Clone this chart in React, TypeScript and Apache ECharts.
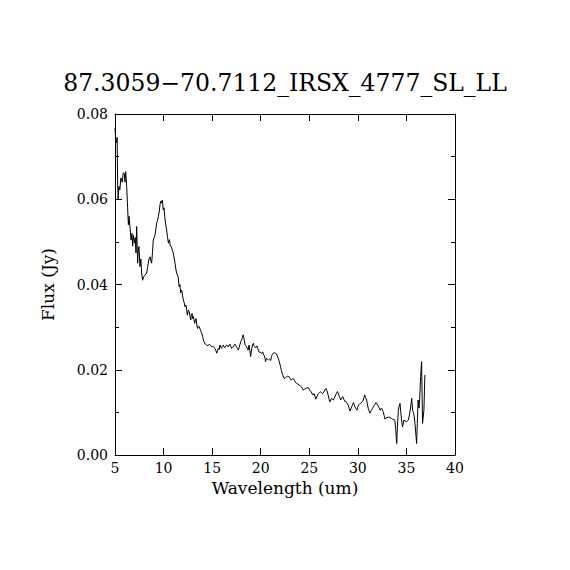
import React, { useEffect, useRef } from "react";
import * as echarts from "echarts";

const TITLE = "87.3059\u221270.7112_IRSX_4777_SL_LL";
const X_NAME = "Wavelength (um)";
const Y_NAME = "Flux (Jy)";

const wavelength: number[] = [
  5.00, 5.08, 5.17, 5.22, 5.27, 5.32, 5.40, 5.50, 5.60, 5.75, 5.85, 5.96, 6.03, 6.10, 6.20, 6.30, 6.38, 6.44, 6.54, 6.65,
  6.75, 6.82, 6.90, 7.00, 7.08, 7.16, 7.23, 7.33, 7.40, 7.47, 7.57, 7.66, 7.74, 7.84, 7.95, 8.09, 8.26, 8.36, 8.43, 8.50,
  8.60, 8.70, 8.77, 8.86, 8.94, 9.03, 9.12, 9.20, 9.29, 9.38, 9.46, 9.55, 9.63, 9.72, 9.80, 9.88, 9.97, 10.05, 10.12, 10.20,
  10.30, 10.40, 10.50, 10.60, 10.70, 10.80, 10.90, 11.00, 11.10, 11.18, 11.28, 11.35, 11.42, 11.50, 11.60, 11.68, 11.76, 11.86, 11.95, 12.03,
  12.12, 12.20, 12.30, 12.38, 12.45, 12.55, 12.65, 12.72, 12.80, 12.86, 12.93, 13.00, 13.06, 13.13, 13.20, 13.27, 13.34, 13.42, 13.50, 13.60,
  13.68, 13.76, 13.85, 13.95, 14.02, 14.10, 14.16, 14.30, 14.43, 14.57, 14.71, 14.83, 14.95, 15.10, 15.20, 15.30, 15.40, 15.47, 15.55, 15.64,
  15.72, 15.80, 15.90, 15.98, 16.05, 16.15, 16.22, 16.30, 16.40, 16.50, 16.58, 16.67, 16.75, 16.84, 16.92, 17.00, 17.10, 17.20, 17.28, 17.36,
  17.43, 17.50, 17.60, 17.70, 17.78, 17.87, 17.95, 18.04, 18.12, 18.20, 18.25, 18.30, 18.40, 18.48, 18.55, 18.62, 18.70, 18.80, 18.88, 18.96,
  19.02, 19.08, 19.16, 19.24, 19.32, 19.40, 19.50, 19.60, 19.70, 19.77, 19.85, 19.93, 20.02, 20.10, 20.20, 20.27, 20.36, 20.45, 20.50, 20.55,
  20.60, 20.70, 20.80, 20.90, 20.95, 21.04, 21.10, 21.20, 21.30, 21.40, 21.47, 21.56, 21.64, 21.72, 21.80, 21.90, 22.00, 22.06, 22.13, 22.20,
  22.30, 22.40, 22.50, 22.58, 22.67, 22.78, 22.90, 23.00, 23.08, 23.16, 23.28, 23.40, 23.50, 23.60, 23.68, 23.80, 23.95, 24.08, 24.20, 24.30,
  24.38, 24.50, 24.65, 24.78, 24.90, 25.05, 25.20, 25.36, 25.50, 25.58, 25.67, 25.80, 25.93, 26.05, 26.16, 26.27, 26.37, 26.50, 26.62, 26.72,
  26.80, 26.85, 26.95, 27.05, 27.13, 27.22, 27.30, 27.40, 27.48, 27.56, 27.65, 27.78, 27.90, 28.00, 28.10, 28.17, 28.24, 28.34, 28.44, 28.55,
  28.68, 28.76, 28.85, 28.92, 29.00, 29.10, 29.20, 29.28, 29.37, 29.45, 29.54, 29.62, 29.70, 29.80, 29.90, 29.98, 30.06, 30.18, 30.30, 30.44,
  30.57, 30.64, 30.70, 30.80, 30.90, 30.98, 31.06, 31.15, 31.24, 31.32, 31.40, 31.50, 31.60, 31.74, 31.87, 31.96, 32.04, 32.18, 32.30, 32.37,
  32.44, 32.52, 32.60, 32.70, 32.80, 32.90, 33.00, 33.15, 33.30, 33.45, 33.57, 33.70, 33.80, 33.90, 34.00, 34.07, 34.17, 34.25, 34.34, 34.42,
  34.50, 34.60, 34.74, 34.86, 35.00, 35.10, 35.20, 35.34, 35.45, 35.54, 35.64, 35.72, 35.78, 35.88, 36.05, 36.12, 36.20, 36.30, 36.38, 36.46,
  36.56, 36.66, 36.80, 36.90,
];

const flux: number[] = [
  0.0767, 0.0739, 0.0732, 0.0745, 0.0645, 0.0600, 0.0630, 0.0622, 0.0650, 0.0640, 0.0662, 0.0660, 0.0640, 0.0665, 0.0630, 0.0580, 0.0540, 0.0560, 0.0536, 0.0504,
  0.0520, 0.0490, 0.0515, 0.0497, 0.0510, 0.0474, 0.0536, 0.0450, 0.0480, 0.0489, 0.0442, 0.0460, 0.0427, 0.0410, 0.0418, 0.0422, 0.0427, 0.0440, 0.0450, 0.0460,
  0.0465, 0.0455, 0.0450, 0.0475, 0.0504, 0.0510, 0.0516, 0.0530, 0.0544, 0.0550, 0.0560, 0.0570, 0.0587, 0.0596, 0.0591, 0.0598, 0.0575, 0.0580, 0.0560, 0.0544,
  0.0530, 0.0512, 0.0497, 0.0505, 0.0490, 0.0489, 0.0480, 0.0474, 0.0460, 0.0450, 0.0434, 0.0427, 0.0422, 0.0418, 0.0395, 0.0400, 0.0380, 0.0387, 0.0375, 0.0364,
  0.0358, 0.0348, 0.0352, 0.0340, 0.0328, 0.0340, 0.0336, 0.0325, 0.0317, 0.0328, 0.0332, 0.0320, 0.0325, 0.0318, 0.0309, 0.0315, 0.0320, 0.0305, 0.0297, 0.0302,
  0.0301, 0.0295, 0.0290, 0.0284, 0.0278, 0.0270, 0.0266, 0.0260, 0.0258, 0.0256, 0.0260, 0.0257, 0.0254, 0.0255, 0.0252, 0.0250, 0.0244, 0.0239, 0.0245, 0.0250,
  0.0247, 0.0258, 0.0252, 0.0250, 0.0255, 0.0258, 0.0254, 0.0252, 0.0256, 0.0258, 0.0255, 0.0254, 0.0258, 0.0260, 0.0255, 0.0250, 0.0253, 0.0254, 0.0258, 0.0260,
  0.0257, 0.0254, 0.0250, 0.0246, 0.0252, 0.0260, 0.0266, 0.0270, 0.0276, 0.0282, 0.0276, 0.0270, 0.0258, 0.0256, 0.0254, 0.0250, 0.0246, 0.0258, 0.0245, 0.0231,
  0.0240, 0.0250, 0.0258, 0.0262, 0.0256, 0.0254, 0.0252, 0.0256, 0.0250, 0.0244, 0.0241, 0.0242, 0.0240, 0.0238, 0.0242, 0.0237, 0.0233, 0.0227, 0.0219, 0.0225,
  0.0227, 0.0224, 0.0223, 0.0225, 0.0225, 0.0222, 0.0231, 0.0236, 0.0239, 0.0240, 0.0240, 0.0238, 0.0237, 0.0232, 0.0227, 0.0220, 0.0211, 0.0205, 0.0198, 0.0192,
  0.0186, 0.0180, 0.0180, 0.0182, 0.0184, 0.0185, 0.0184, 0.0180, 0.0177, 0.0176, 0.0179, 0.0178, 0.0174, 0.0170, 0.0168, 0.0167, 0.0164, 0.0162, 0.0160, 0.0156,
  0.0152, 0.0155, 0.0156, 0.0158, 0.0158, 0.0152, 0.0148, 0.0141, 0.0144, 0.0138, 0.0131, 0.0138, 0.0144, 0.0147, 0.0148, 0.0146, 0.0144, 0.0148, 0.0153, 0.0156,
  0.0152, 0.0148, 0.0140, 0.0130, 0.0125, 0.0130, 0.0133, 0.0130, 0.0129, 0.0133, 0.0137, 0.0144, 0.0149, 0.0143, 0.0137, 0.0133, 0.0129, 0.0133, 0.0137, 0.0131,
  0.0125, 0.0126, 0.0123, 0.0120, 0.0117, 0.0110, 0.0103, 0.0108, 0.0113, 0.0118, 0.0123, 0.0118, 0.0113, 0.0109, 0.0105, 0.0111, 0.0117, 0.0120, 0.0121, 0.0125,
  0.0129, 0.0135, 0.0141, 0.0135, 0.0129, 0.0120, 0.0110, 0.0104, 0.0098, 0.0102, 0.0105, 0.0109, 0.0113, 0.0118, 0.0123, 0.0120, 0.0117, 0.0111, 0.0105, 0.0108,
  0.0110, 0.0106, 0.0102, 0.0093, 0.0084, 0.0087, 0.0088, 0.0089, 0.0088, 0.0086, 0.0084, 0.0083, 0.0082, 0.0060, 0.0027, 0.0066, 0.0105, 0.0115, 0.0121, 0.0100,
  0.0082, 0.0066, 0.0082, 0.0080, 0.0078, 0.0080, 0.0082, 0.0098, 0.0115, 0.0133, 0.0105, 0.0100, 0.0094, 0.0074, 0.0027, 0.0074, 0.0129, 0.0110, 0.0140, 0.0184,
  0.0219, 0.0074, 0.0105, 0.0188,
];

const X_MIN = 5;
const X_MAX = 40;
const X_STEP = 5;
const Y_MIN = 0;
const Y_MAX = 0.08;
const Y_STEP = 0.02;

const SERIF = "DejaVu Serif";

export default function App() {
  const ref = useRef<HTMLDivElement>(null);

  useEffect(() => {
    document.body.style.margin = "0";
    const chart = echarts.init(ref.current!, undefined, { renderer: "svg" });
    const points = wavelength.map((w, i) => [w, flux[i]]);
    const axisLine = { show: true, onZero: false, lineStyle: { color: "#000", width: 1 } };
    const tick = { show: true, inside: true, length: 7, lineStyle: { color: "#000", width: 1 } };
    chart.setOption({
      animation: false,
      backgroundColor: "#fff",
      title: {
        text: TITLE,
        left: "center",
        top: 66,
        textStyle: { fontFamily: SERIF, fontSize: 23.5, fontWeight: "normal", color: "#000" },
      },
      grid: { left: 115, right: 115, top: 114, bottom: 115, containLabel: false },
      xAxis: [
        {
          type: "value",
          position: "bottom",
          min: X_MIN,
          max: X_MAX,
          interval: X_STEP,
          name: X_NAME,
          nameLocation: "middle",
          nameGap: 20,
          nameTextStyle: { fontFamily: SERIF, fontSize: 17, color: "#000" },
          axisLine,
          axisTick: tick,
          axisLabel: { fontFamily: SERIF, fontSize: 14, color: "#000", margin: 6 },
          splitLine: { show: false },
        },
        {
          type: "value",
          position: "top",
          min: X_MIN,
          max: X_MAX,
          interval: X_STEP,
          axisLine,
          axisTick: tick,
          axisLabel: { show: false },
          splitLine: { show: false },
        },
      ],
      yAxis: [
        {
          type: "value",
          position: "left",
          min: Y_MIN,
          max: Y_MAX,
          interval: Y_STEP,
          name: Y_NAME,
          nameLocation: "middle",
          nameGap: 59,
          nameRotate: 90,
          nameTextStyle: { fontFamily: SERIF, fontSize: 17, color: "#000" },
          axisLine,
          axisTick: tick,
          minorTick: { show: true, splitNumber: 2, length: 4, lineStyle: { color: "#000", width: 1 } },
          axisLabel: {
            fontFamily: SERIF,
            fontSize: 14,
            color: "#000",
            margin: 7,
            formatter: (v: number) => v.toFixed(2),
          },
          splitLine: { show: false },
          minorSplitLine: { show: false },
        },
        {
          type: "value",
          position: "right",
          min: Y_MIN,
          max: Y_MAX,
          interval: Y_STEP,
          axisLine,
          axisTick: tick,
          minorTick: { show: true, splitNumber: 2, length: 4, lineStyle: { color: "#000", width: 1 } },
          axisLabel: { show: false },
          splitLine: { show: false },
          minorSplitLine: { show: false },
        },
      ],
      series: [
        {
          type: "line",
          xAxisIndex: 0,
          yAxisIndex: 0,
          data: points,
          showSymbol: false,
          symbol: "none",
          lineStyle: { color: "#000", width: 1 },
          silent: true,
        },
      ],
    });
    return () => chart.dispose();
  }, []);

  return <div ref={ref} style={{ width: 570, height: 570, position: "absolute", left: 0, top: 0 }} />;
}
